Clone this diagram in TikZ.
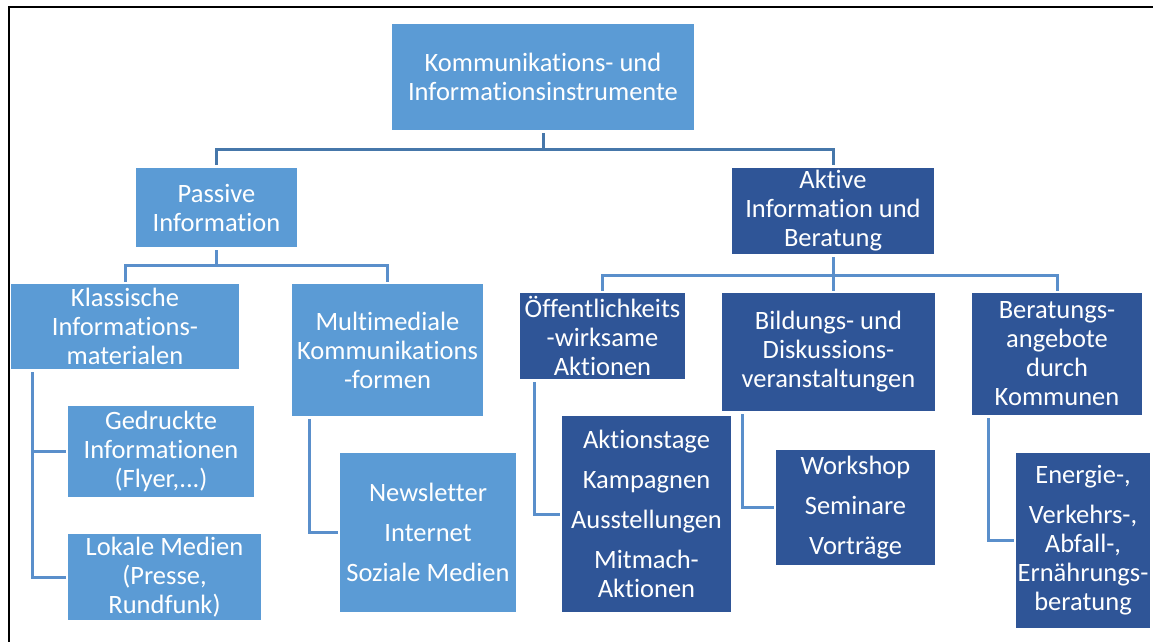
\documentclass[tikz,border=0pt]{standalone}
\usepackage{fontspec}
\setmainfont{Carlito}[Ligatures=NoCommon]
\definecolor{lightbox}{HTML}{5B9BD5}
\definecolor{darkbox}{HTML}{2F5597}
\definecolor{topline}{HTML}{4677AA}
\definecolor{subline}{HTML}{5A8FCB}
\tikzset{
  boxbase/.style={rectangle, inner sep=0pt, align=center, text=white,
    font=\fontsize{26.5}{29}\selectfont},
  lightnode/.style={boxbase, fill=lightbox},
  darknode/.style={boxbase, fill=darkbox},
  topconn/.style={draw=topline, line width=3pt, shorten <=3pt, shorten >=3pt},
  subconn/.style={draw=subline, line width=3pt, shorten <=3pt, shorten >=2pt},
}
\begin{document}
\begin{tikzpicture}[x=1pt,y=-1pt]
\useasboundingbox (0,0) rectangle (1153,642);
\fill[white] (0,0) rectangle (1153,642);
\draw[line width=2pt] (1153,7) -- (9,7) -- (9,642);

\node[lightnode, minimum width=302pt, minimum height=106pt] (root) at (543,77)
  {Kommunikations- und\\Informationsinstrumente};
\node[lightnode, minimum width=161pt, minimum height=79pt] (passive) at (216.5,207.5)
  {Passive\\Information};
\node[darknode, minimum width=202pt, minimum height=86pt] (aktive) at (833,211)
  {Aktive\\Information und\\Beratung};

\node[lightnode, minimum width=228pt, minimum height=85pt] (klass) at (125,326.5)
  {Klassische\\Informations-\\materialen};
\node[lightnode, minimum width=191pt, minimum height=132pt] (multi) at (387.5,350)
  {Multimediale\\Kommunikations\\-formen};
\node[lightnode, minimum width=186pt, minimum height=91pt] (gedr) at (161,451.5)
  {Gedruckte\\Informationen\\(Flyer,...)};
\node[lightnode, minimum width=193pt, minimum height=86pt] (lokal) at (164.5,577)
  {Lokale Medien\\(Presse,\\Rundfunk)};
\node[lightnode, minimum width=176pt, minimum height=159pt] (news) at (428,532.5)
  {Newsletter\\[11pt]Internet\\[11pt]Soziale Medien};

\node[darknode, minimum width=165pt, minimum height=86pt] (oeff) at (602.5,336)
  {Öffentlichkeits\\-wirksame\\Aktionen};
\node[darknode, minimum width=213pt, minimum height=118pt] (bild) at (828.5,352)
  {Bildungs- und\\Diskussions-\\veranstaltungen};
\node[darknode, minimum width=170pt, minimum height=122pt] (berat) at (1057,354)
  {Beratungs-\\angebote\\durch\\Kommunen};
\node[darknode, minimum width=169pt, minimum height=196pt] (akt) at (646.5,514)
  {Aktionstage\\[11pt]Kampagnen\\[11pt]Ausstellungen\\[11pt]Mitmach-\\Aktionen};
\node[darknode, minimum width=159pt, minimum height=115pt] (work) at (855.5,507.5)
  {Workshop\\[11pt]Seminare\\[11pt]Vorträge};
\node[darknode, minimum width=134pt, minimum height=175pt] (energ) at (1083,540.5)
  {Energie-,\\[11pt]Verkehrs-,\\Abfall-,\\Ernährungs-\\beratung};

% bus levels and vertical rails
\coordinate (bus1) at (0,149);
\coordinate (bus2) at (0,265);
\coordinate (bus3) at (0,275);
\coordinate (kx) at (32,0);
\coordinate (mx) at (309,0);
\coordinate (ox) at (534,0);
\coordinate (bx) at (742,0);
\coordinate (rx) at (988,0);

\draw[topconn] (root.south) -- (root.south |- bus1) -| (passive.north);
\draw[topconn] (root.south) -- (root.south |- bus1) -| (aktive.north);

\draw[subconn] (passive.south) -- (passive.south |- bus2) -| (klass.north);
\draw[subconn] (passive.south) -- (passive.south |- bus2) -| (multi.north);

\draw[subconn] (aktive.south) -- (aktive.south |- bus3) -| (oeff.north);
\draw[subconn] (aktive.south) -- (aktive.south |- bus3) -| (berat.north);
\draw[subconn] (aktive.south) -- (aktive.south |- bild.north);

\draw[subconn] (klass.south -| kx) |- (gedr.west);
\draw[subconn] (klass.south -| kx) |- (lokal.west);
\draw[subconn] (multi.south -| mx) |- (news.west);
\draw[subconn] (oeff.south -| ox) |- (akt.west);
\draw[subconn] (bild.south -| bx) |- (work.west);
\draw[subconn] (berat.south -| rx) |- (energ.west);
\end{tikzpicture}
\end{document}
